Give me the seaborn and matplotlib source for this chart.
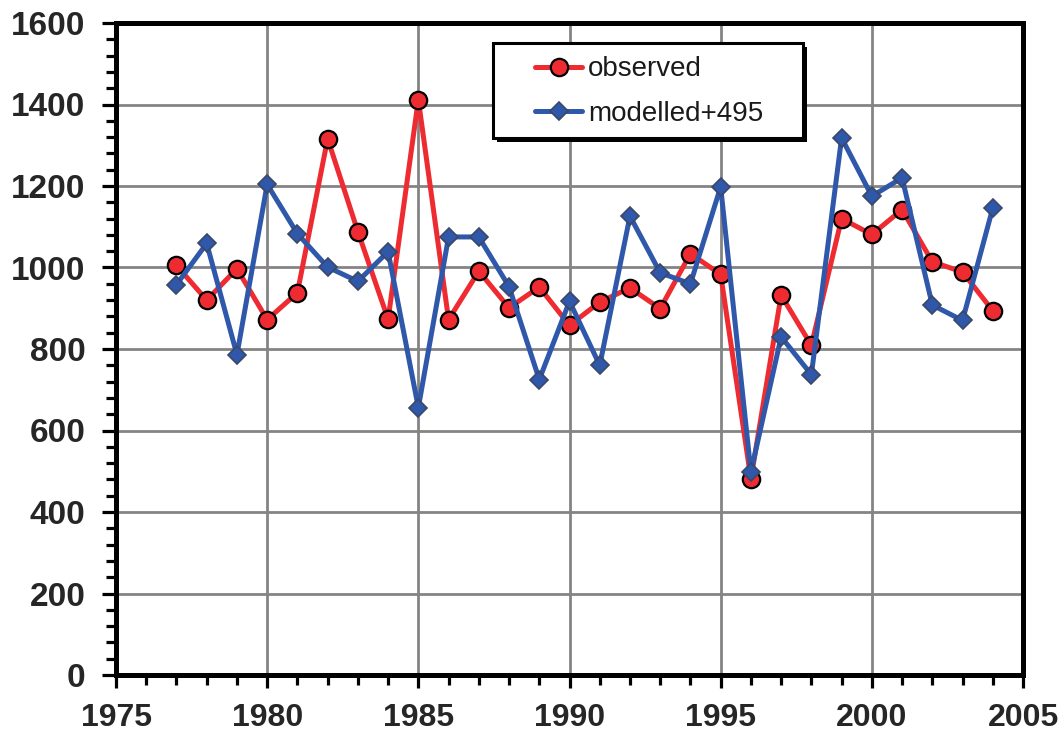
import matplotlib
matplotlib.use("Agg")
import matplotlib.pyplot as plt
from matplotlib.patches import Rectangle
from matplotlib.ticker import MultipleLocator
import pandas as pd
import seaborn as sns

# Annual series, 1977-2004
years = list(range(1977, 2005))
observed = [1005, 920, 997, 872, 938, 1316, 1088, 873, 1412, 872,
            991, 901, 952, 858, 915, 950, 899, 1034, 983, 481,
            932, 809, 1120, 1081, 1142, 1014, 989, 894]
modelled_plus_495 = [958, 1059, 786, 1204, 1083, 1001, 966, 1039, 656, 1075,
                     1075, 953, 725, 917, 760, 1126, 987, 960, 1198, 498,
                     830, 737, 1318, 1175, 1220, 908, 870, 1146]
series_labels = ["observed", "modelled+495"]

x_ticks = [1975, 1980, 1985, 1990, 1995, 2000, 2005]
y_ticks = [0, 200, 400, 600, 800, 1000, 1200, 1400, 1600]

sns.set_style("white")
plt.rcParams["font.family"] = ["Liberation Sans", "DejaVu Sans"]

RED = "#ee2b30"
BLUE = "#2f57aa"

df = pd.DataFrame({"year": years, "observed": observed, "modelled": modelled_plus_495})

fig = plt.figure(figsize=(10.64, 7.42), dpi=100)
ax = fig.add_axes([116 / 1064, 1 - 675 / 742, 907 / 1064, 652 / 742])

sns.lineplot(data=df, x="year", y="observed", ax=ax, color=RED, linewidth=3.6,
             marker="o", markersize=12.5, markerfacecolor=RED, markeredgecolor="black",
             markeredgewidth=1.6, label=series_labels[0], zorder=3)
sns.lineplot(data=df, x="year", y="modelled", ax=ax, color=BLUE, linewidth=3.6,
             marker="D", markersize=8.8, markerfacecolor=BLUE, markeredgecolor="#3b4866",
             markeredgewidth=1.2, label=series_labels[1], zorder=4)

ax.set_xlim(x_ticks[0], x_ticks[-1])
ax.set_ylim(y_ticks[0], y_ticks[-1])
ax.set_xticks(x_ticks)
ax.set_yticks(y_ticks)
ax.xaxis.set_minor_locator(MultipleLocator(1))
ax.yaxis.set_minor_locator(MultipleLocator(40))
ax.set_xlabel("")
ax.set_ylabel("")

ax.grid(True, which="major", color="#848484", linewidth=2.0, zorder=0)
ax.set_axisbelow(True)

for side in ["left", "right", "top", "bottom"]:
    ax.spines[side].set_visible(True)
    ax.spines[side].set_color("black")
    ax.spines[side].set_linewidth(3.6)

ax.tick_params(axis="y", which="major", direction="out", length=10, width=2.3,
               color="black", pad=12, labelsize=24, left=True)
ax.tick_params(axis="y", which="minor", direction="out", length=7, width=2.3,
               color="black", left=True)
ax.tick_params(axis="x", which="major", direction="out", length=9.5, width=2.3,
               color="black", pad=11, labelsize=23, bottom=True)
ax.tick_params(axis="x", which="minor", direction="out", length=7, width=2.3,
               color="black", bottom=True)
for lbl in ax.get_xticklabels() + ax.get_yticklabels():
    lbl.set_fontweight("bold")

# Legend box with a drop shadow
bx0, by0, bw, bh = 0.4157, 0.8236, 0.3417, 0.1457
ax.add_patch(Rectangle((bx0 + 0.0045, by0 - 0.0065), bw, bh, transform=ax.transAxes,
                       facecolor="black", edgecolor="none", zorder=5))
ax.add_patch(Rectangle((bx0, by0), bw, bh, transform=ax.transAxes,
                       facecolor="white", edgecolor="black", linewidth=2.2, zorder=6))
leg = ax.legend(loc="upper left", bbox_to_anchor=(0.462, 0.949), frameon=False,
                fontsize=20, borderpad=0, borderaxespad=0, handlelength=1.7,
                handletextpad=0.2, labelspacing=0.68)
leg.set_zorder(7)
for txt in leg.get_texts():
    txt.set_color("#1a1a1a")

fig.savefig("out.png", dpi=100)
